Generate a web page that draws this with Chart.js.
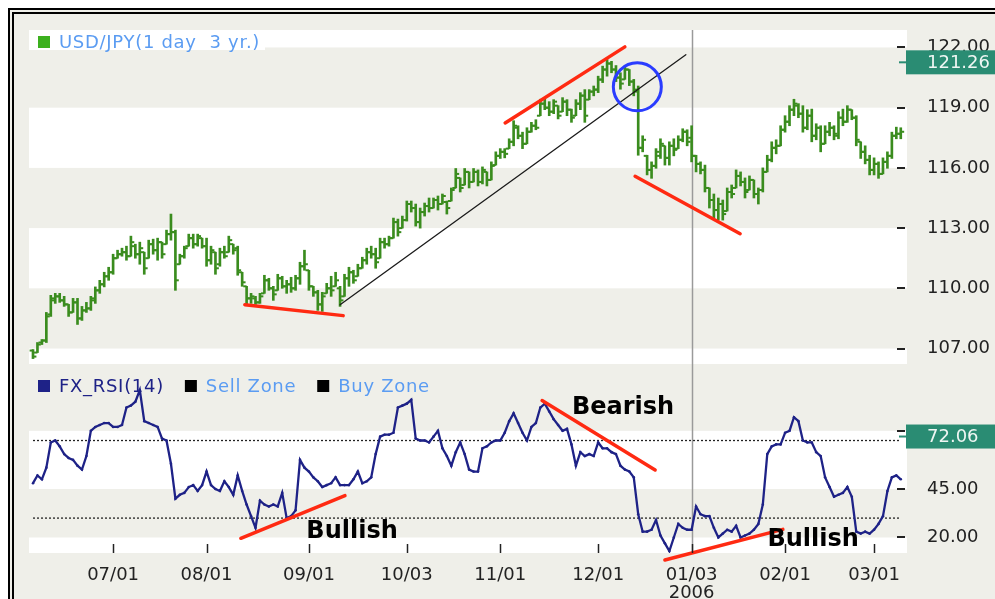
<!DOCTYPE html>
<html>
<head>
<meta charset="utf-8">
<script src="https://cdn.jsdelivr.net/npm/chart.js@4.4.1/dist/chart.umd.min.js"></script>
<style>
  html, body { margin: 0; padding: 0; background: #fff; overflow: hidden; }
  #frame { position: absolute; left: 8px; top: 8px; width: 1100px; height: 700px; border: 6px double #000; background: #efefe9; }
  canvas { position: absolute; left: 0; }
  #price { top: 0; }
  #rsi { top: 370px; }
</style>
</head>
<body>
<div id="frame"></div>
<canvas id="price" width="995" height="370"></canvas>
<canvas id="rsi" width="995" height="229"></canvas>
<script>
// trading days shown (weekdays, without the two holidays)
const dates = [];
(function () {
  const holidays = ['2005-12-26', '2006-01-02'];
  const d = new Date(Date.UTC(2005, 5, 7));
  const end = Date.UTC(2006, 2, 9);
  while (d.getTime() <= end) {
    const s = d.toISOString().slice(0, 10);
    const wd = d.getUTCDay();
    if (wd !== 0 && wd !== 6 && !holidays.includes(s)) dates.push(s);
    d.setUTCDate(d.getUTCDate() + 1);
  }
})();

const tickDates = ['2005-07-01', '2005-08-01', '2005-09-01', '2005-10-03', '2005-11-01', '2005-12-01', '2006-01-03', '2006-02-01', '2006-03-01'];
const tickLabels = ['07/01', '08/01', '09/01', '10/03', '11/01', '12/01', ['01/03', '2006'], '02/01', '03/01'];
const yearMark = '2006-01-03';

// USD/JPY daily bars
const open = [106.9,106.8,107.3,107.4,108.7,109.4,109.6,109.4,109.2,108.8,
  109.3,108.5,108.9,109.0,109.4,109.9,110.2,110.6,110.8,111.5,
  111.7,111.8,111.6,112.1,111.7,111.8,111.5,112.2,111.9,112.3,
  112.2,112.7,112.8,111.2,111.6,112.1,112.5,112.2,112.5,112.1,
  111.4,111.8,111.2,111.8,111.8,112.2,112.0,110.8,110.1,109.5,
  109.5,109.3,109.75,110.4,110.0,109.9,110.5,110.1,110.2,110.0,
  110.5,111.1,110.9,110.1,109.8,109.2,109.75,110.0,110.1,110.0,
  109.6,110.5,110.8,110.6,111.0,111.4,111.8,111.7,111.5,112.3,
  112.2,112.5,113.3,113.0,113.4,114.2,114.0,113.3,113.8,114.1,
  114.0,114.4,114.2,114.3,114.35,115.0,115.5,115.15,115.8,115.3,
  115.8,115.3,115.8,115.4,116.14,116.6,116.8,116.96,117.3,118.0,
  117.6,117.2,117.8,118.1,118.6,119.2,119.0,118.8,119.1,118.8,
  119.3,118.9,118.6,119.2,119.6,119.4,119.8,119.9,120.4,120.9,
  121.2,120.9,120.5,120.41,120.9,120.3,119.9,117.0,116.6,115.9,
  116.1,116.6,117.1,116.5,117.1,116.96,117.4,117.8,117.5,116.6,
  116.2,115.9,115.0,114.4,113.9,114.2,113.85,114.8,115.0,115.6,
  115.3,114.9,115.4,114.7,114.9,115.8,116.4,117.0,117.1,117.9,
  118.3,118.9,119.1,118.7,118.0,118.6,117.6,118.0,117.2,117.8,
  118.0,117.6,118.5,118.3,118.9,118.5,117.3,116.8,116.4,115.9,
  116.2,115.7,116.3,116.6,117.6,117.7];
const high = [106.95,107.3,107.45,108.8,109.65,109.75,109.75,109.6,109.2,109.5,
  109.5,109.1,109.3,109.6,110.07,110.4,110.8,111.05,111.7,111.9,
  112.0,112.1,112.6,112.2,112.3,111.8,112.4,112.45,112.5,112.3,
  112.9,113.7,112.9,111.7,112.1,112.7,112.7,112.7,112.5,112.5,
  112.1,111.8,112.0,112.1,112.6,112.2,112.1,110.8,110.1,109.75,
  109.6,109.75,110.65,110.5,110.1,110.7,110.6,110.4,110.55,110.65,
  111.3,111.9,110.9,110.1,109.9,109.8,110.25,110.6,110.8,110.1,
  110.7,111.05,110.9,111.2,111.55,112.0,112.1,112.0,112.5,112.5,
  112.6,113.5,113.45,113.6,114.35,114.35,114.2,114.0,114.25,114.5,
  114.5,114.6,114.7,114.35,115.0,115.97,115.5,115.97,115.8,115.97,
  115.9,116.05,115.8,116.3,116.8,116.96,116.96,117.45,118.35,118.1,
  117.78,118.0,118.27,118.4,119.42,119.42,119.3,119.4,119.1,119.5,
  119.4,118.93,119.4,119.75,119.9,119.9,120.08,120.57,121.07,121.4,
  121.31,121.1,120.74,121.07,120.9,120.41,120.08,117.6,116.63,116.3,
  116.96,117.45,117.1,117.3,117.45,117.6,117.95,117.9,118.1,116.63,
  116.3,116.14,115.0,114.7,114.5,114.4,115.0,115.15,115.9,115.8,
  115.5,115.6,115.4,115.0,116.0,116.63,117.3,117.4,118.1,118.6,
  119.1,119.42,119.2,119.1,118.9,118.93,118.2,118.1,118.1,118.27,
  118.1,118.8,118.93,119.1,118.9,118.6,117.3,117.1,116.63,116.5,
  116.3,116.5,116.8,117.78,118.03,118.0];
const low = [106.5,106.8,107.2,107.3,108.6,109.25,109.3,109.1,108.6,108.8,
  108.2,108.4,108.8,108.9,109.25,109.75,110.07,110.4,110.7,111.5,
  111.6,111.4,111.6,111.5,111.2,110.7,111.5,111.7,111.4,111.5,
  112.2,112.4,109.9,111.2,111.5,112.1,112.0,112.1,112.0,111.1,
  111.2,110.7,111.1,111.5,111.8,111.7,110.65,110.1,109.2,109.25,
  109.2,109.25,109.75,109.9,109.4,109.9,110.0,109.75,109.8,109.9,
  110.2,110.9,109.9,109.6,108.9,108.85,109.75,109.6,110.1,109.1,
  109.6,110.1,110.25,110.6,111.0,111.2,111.5,111.0,111.5,112.0,
  112.1,112.5,112.6,113.0,113.35,113.8,113.1,113.0,113.6,113.8,
  114.0,113.9,114.2,113.7,114.35,115.0,114.8,115.15,115.0,115.3,
  115.1,115.2,115.1,115.4,116.14,116.47,116.5,116.96,117.1,117.45,
  116.96,117.2,117.78,117.9,118.6,118.9,118.6,118.7,118.44,118.8,
  118.6,118.27,118.6,118.9,118.27,119.4,119.59,119.75,120.25,120.57,
  120.74,120.3,119.92,120.41,120.1,119.59,116.63,116.8,115.65,115.48,
  115.98,116.47,116.14,116.14,116.6,116.96,117.3,117.1,116.3,115.8,
  115.7,114.8,114.0,113.5,113.4,113.4,113.85,114.5,115.0,115.1,
  114.5,114.9,114.5,114.2,114.8,115.8,116.3,116.7,117.1,117.78,
  118.1,118.6,118.5,117.78,117.9,117.3,117.4,116.8,117.2,117.6,
  117.4,117.45,118.1,118.27,118.4,117.1,116.47,116.2,115.65,115.65,
  115.48,115.7,115.98,116.47,117.45,117.45];
const close = [106.6,107.2,107.4,108.6,109.5,109.6,109.4,109.2,108.8,109.3,
  108.5,108.9,109.0,109.5,109.9,110.2,110.6,110.8,111.5,111.7,
  111.8,111.6,112.3,111.7,112.0,111.0,112.2,111.9,112.3,111.7,
  112.7,112.8,110.4,111.6,112.0,112.5,112.2,112.6,112.1,111.4,
  111.9,111.0,111.8,111.6,112.4,111.9,110.9,110.3,109.5,109.6,
  109.3,109.6,110.4,110.0,109.7,110.5,110.1,110.2,110.0,110.5,
  111.1,111.2,110.1,109.8,109.2,109.6,110.0,109.9,110.4,109.4,
  110.5,110.8,110.4,111.0,111.4,111.8,111.7,111.3,112.3,112.2,
  112.5,113.3,112.8,113.4,114.2,114.0,113.3,113.8,114.1,114.0,
  114.4,114.2,114.6,114.0,114.9,115.7,115.0,115.8,115.3,115.8,
  115.3,115.9,115.4,116.1,116.6,116.8,116.7,117.3,118.1,117.6,
  117.2,117.8,118.1,118.0,119.2,119.0,118.8,119.3,118.6,119.3,
  118.9,118.5,119.2,119.6,118.6,119.8,119.9,120.4,120.9,121.2,
  120.9,120.5,120.2,120.9,120.3,119.8,117.0,117.4,115.9,116.1,
  116.8,117.2,116.5,117.1,116.9,117.4,117.8,117.3,116.6,116.2,
  115.9,115.0,114.4,113.9,114.2,113.7,114.8,114.7,115.6,115.3,
  114.8,115.4,114.7,114.9,115.8,116.4,117.0,117.1,117.9,118.3,
  118.9,119.2,118.7,118.0,118.6,117.6,118.0,117.2,117.8,118.0,
  117.7,118.5,118.3,118.9,118.5,117.4,116.8,116.4,115.9,116.2,
  115.7,116.3,116.6,117.6,117.7,117.8];

// FX_RSI(14)
const rsi = [48,52,50,56,69,70,67,63,61,60,
  57,55,62,75,77,78,79,79,77,77,
  78,87,88,90,96,80,79,78,77,71,
  70,58,40,42,43,46,47,44,47,54,
  47,45,44,49,46,42,52,44,37,31,
  25,39,37,36,37,36,43,30,31,34,
  60,56,54,51,49,46,47,48,51,47,
  47,47,50,54,48,49,51,63,72,73,
  73,74,87,88,89,91,71,70,70,69,
  72,75,66,62,57,64,69,63,55,54,
  54,66,67,69,70,70,74,80,84,79,
  74,70,77,79,87,89,85,81,78,75,
  76,68,57,64,62,63,62,69,66,66,
  64,63,57,55,54,51,32,23,23,24,
  29,21,17,13,20,27,25,24,24,36,
  32,31,31,25,20,22,24,23,26,20,
  21,22,24,27,37,63,67,68,68,74,
  75,82,80,70,69,69,64,62,51,46,
  41,42,43,46,41,23,22,23,22,24,
  27,31,44,51,52,50];

const priceTicks = [107, 110, 113, 116, 119, 122];
const rsiTicks = [20, 45, 75];
const sellLevel = 70;
const buyLevel = 30;
const lastPrice = 121.26;
const lastRsi = 72.06;

// drawn-on annotations, in (bar index, value)
const priceRedLines = [[[106.1, 118.24], [133.0, 122.03]], [[47.6, 109.18], [69.7, 108.64]], [[135.3, 115.58], [158.9, 112.72]]];
const priceTrend = [[69.0, 109.18], [146.7, 121.64]];
const priceCircle = [135.8, 120.04];
const rsiRedLines = [[[46.7, 19.6], [70.1, 41.6]], [[114.4, 90.6], [139.8, 54.8]], [[142.0, 8.4], [168.5, 24.2]]];
const rsiNotes = [['Bearish', 132.6, 87], ['Bullish', 71.7, 22.7], ['Bullish', 175.3, 18.6]];

const GREEN = '#3a8c1e';
const NAVY = '#1e2287';
const RED = '#ff2a12';
const TEAL = '#2a8c73';
const FONT = '"DejaVu Sans", sans-serif';
Chart.defaults.font.family = FONT;

const tickIdx = tickDates.map(d => dates.indexOf(d));
const markIdx = dates.indexOf(yearMark);

function whiteBands(chart, ticks) {
  const { ctx, chartArea: a, scales: { y } } = chart;
  const edges = [y.min, ...ticks, y.max];
  ctx.save();
  ctx.fillStyle = '#fff';
  for (let k = 0; k < edges.length - 1; k += 2) {
    const t = y.getPixelForValue(edges[k + 1]);
    const b = y.getPixelForValue(edges[k]);
    ctx.fillRect(a.left, t, a.right - a.left, b - t);
  }
  ctx.restore();
}

function yearLine(chart, y0, y1) {
  const { ctx, scales: { x } } = chart;
  const px = Math.round(x.getPixelForValue(markIdx)) + 0.5;
  ctx.save();
  ctx.strokeStyle = '#9a9a9a';
  ctx.lineWidth = 1.5;
  ctx.beginPath();
  ctx.moveTo(px, y0);
  ctx.lineTo(px, y1);
  ctx.stroke();
  ctx.restore();
}

function segment(chart, p, q, color, width) {
  const { ctx, scales: { x, y } } = chart;
  ctx.save();
  ctx.strokeStyle = color;
  ctx.lineWidth = width;
  ctx.lineCap = 'round';
  ctx.beginPath();
  ctx.moveTo(x.getPixelForValue(p[0]), y.getPixelForValue(p[1]));
  ctx.lineTo(x.getPixelForValue(q[0]), y.getPixelForValue(q[1]));
  ctx.stroke();
  ctx.restore();
}

function tickDashes(chart, ticks) {
  const { ctx, chartArea: a, scales: { y } } = chart;
  ctx.save();
  ctx.strokeStyle = '#222';
  ctx.lineWidth = 2;
  ticks.forEach(v => {
    const py = Math.round(y.getPixelForValue(v));
    ctx.beginPath();
    ctx.moveTo(a.right - 10, py);
    ctx.lineTo(a.right - 2, py);
    ctx.stroke();
  });
  ctx.restore();
}

function valueBox(chart, value) {
  const { ctx, chartArea: a, scales: { y } } = chart;
  const py = y.getPixelForValue(value);
  ctx.save();
  ctx.fillStyle = TEAL;
  ctx.fillRect(a.right - 1, py - 12, 120, 24);
  ctx.strokeStyle = TEAL;
  ctx.lineWidth = 2;
  ctx.beginPath();
  ctx.moveTo(a.right - 8, py);
  ctx.lineTo(a.right, py);
  ctx.stroke();
  ctx.fillStyle = '#eef6f3';
  ctx.font = '18px ' + FONT;
  ctx.textAlign = 'left';
  ctx.textBaseline = 'middle';
  ctx.fillText(value.toFixed(2), a.right + 20, py + 1);
  ctx.restore();
}

function legend(ctx, items, x, y) {
  ctx.save();
  ctx.font = '18px ' + FONT;
  ctx.letterSpacing = '0.7px';
  ctx.textBaseline = 'middle';
  ctx.textAlign = 'left';
  items.forEach(([label, box, color]) => {
    ctx.fillStyle = box;
    ctx.fillRect(x, y - 6, 12, 12);
    x += 21;
    ctx.fillStyle = color;
    ctx.fillText(label, x, y + 1);
    x += ctx.measureText(label).width + 21;
  });
  ctx.restore();
}

const pricePaint = {
  id: 'pricePaint',
  beforeDraw(chart) {
    whiteBands(chart, priceTicks);
    const { ctx, chartArea: a } = chart;
    ctx.save();
    ctx.fillStyle = '#fff';
    ctx.fillRect(a.left, a.top, 236, 20);
    ctx.restore();
  },
  beforeDatasetsDraw(chart) {
    yearLine(chart, chart.chartArea.top, chart.height);
  },
  afterDatasetsDraw(chart) {
    segment(chart, priceTrend[0], priceTrend[1], '#1a1a1a', 1.3);
    priceRedLines.forEach(l => segment(chart, l[0], l[1], RED, 3.5));
    const { ctx, scales: { x, y } } = chart;
    ctx.save();
    ctx.strokeStyle = '#2a3cff';
    ctx.lineWidth = 3;
    ctx.beginPath();
    ctx.arc(x.getPixelForValue(priceCircle[0]), y.getPixelForValue(priceCircle[1]), 24, 0, Math.PI * 2);
    ctx.stroke();
    ctx.restore();
  },
  afterDraw(chart) {
    tickDashes(chart, priceTicks);
    valueBox(chart, lastPrice);
    const a = chart.chartArea;
    legend(chart.ctx, [['USD/JPY(1 day  3 yr.)', '#3cb01e', '#5b9cf2']], a.left + 9, a.top + 12);
  }
};

const rsiPaint = {
  id: 'rsiPaint',
  beforeDraw(chart) {
    whiteBands(chart, rsiTicks);
  },
  beforeDatasetsDraw(chart) {
    yearLine(chart, 0, chart.chartArea.bottom);
  },
  afterDatasetsDraw(chart) {
    rsiRedLines.forEach(l => segment(chart, l[0], l[1], RED, 3.5));
    const { ctx, scales: { x, y } } = chart;
    ctx.save();
    ctx.fillStyle = '#000';
    ctx.font = 'bold 24px ' + FONT;
    ctx.textAlign = 'center';
    ctx.textBaseline = 'middle';
    rsiNotes.forEach(([t, i, v]) => ctx.fillText(t, x.getPixelForValue(i), y.getPixelForValue(v)));
    ctx.restore();
  },
  afterDraw(chart) {
    const { ctx, chartArea: a, scales: { x } } = chart;
    tickDashes(chart, rsiTicks);
    ctx.save();
    ctx.strokeStyle = '#222';
    ctx.lineWidth = 1.5;
    tickIdx.forEach(i => {
      const px = Math.round(x.getPixelForValue(i)) + 0.5;
      ctx.beginPath();
      ctx.moveTo(px, a.bottom - 9);
      ctx.lineTo(px, a.bottom);
      ctx.stroke();
    });
    ctx.restore();
    valueBox(chart, lastRsi);
    legend(ctx, [['FX_RSI(14)', NAVY, NAVY], ['Sell Zone', '#000', '#5b9cf2'], ['Buy Zone', '#000', '#5b9cf2']], a.left + 9, a.top + 12);
  }
};

function xAxis(show) {
  return {
    type: 'linear',
    min: -0.9,
    max: 196.4,
    offset: false,
    display: show,
    grid: { display: false, drawTicks: false },
    border: { display: false },
    afterBuildTicks: s => { s.ticks = tickIdx.map(v => ({ value: v })); },
    afterFit: s => { if (show) s.height = 46; },
    ticks: {
      autoSkip: false,
      maxRotation: 0,
      padding: 13,
      color: '#222',
      font: { size: 18, lineHeight: 1 },
      callback: v => tickLabels[tickIdx.indexOf(v)]
    }
  };
}

// labels that sit under the value box are covered by it in the original
function yAxis(min, max, ticks, boxed) {
  return {
    type: 'linear',
    position: 'right',
    min: min,
    max: max,
    grid: { display: false, drawTicks: false },
    border: { display: false },
    afterBuildTicks: s => { s.ticks = ticks.map(v => ({ value: v })); },
    afterFit: s => { s.width = 88; s.paddingTop = 0; s.paddingBottom = 0; },
    ticks: {
      padding: 20,
      font: { size: 18 },
      color: c => (Math.abs(c.tick.value - boxed) < 4 ? 'rgba(0,0,0,0)' : '#222'),
      callback: v => v.toFixed(2)
    }
  };
}

const barTicks = { type: 'line', showLine: false, pointStyle: 'line', pointRadius: 1.7, pointBorderWidth: 2, pointBorderColor: GREEN, borderColor: GREEN };

new Chart(document.getElementById('price'), {
  type: 'line',
  data: {
    datasets: [
      { type: 'bar', label: 'range', data: high.map((h, i) => ({ x: i, y: [low[i], h] })), backgroundColor: GREEN, barThickness: 2, grouped: false },
      Object.assign({ label: 'open', data: open.map((o, i) => ({ x: i - 0.38, y: o })) }, barTicks),
      Object.assign({ label: 'close', data: close.map((c, i) => ({ x: i + 0.38, y: c })) }, barTicks)
    ]
  },
  options: {
    responsive: false,
    animation: false,
    devicePixelRatio: 1,
    events: [],
    layout: { padding: { left: 29, top: 30, right: 0, bottom: 2 } },
    plugins: { legend: { display: false }, tooltip: { enabled: false } },
    scales: { x: xAxis(false), y: yAxis(106.23, 122.87, priceTicks, 0) }
  },
  plugins: [pricePaint]
});

new Chart(document.getElementById('rsi'), {
  type: 'line',
  data: {
    datasets: [
      { label: 'FX_RSI(14)', data: rsi.map((r, i) => ({ x: i, y: r })), borderColor: NAVY, borderWidth: 2.3, pointRadius: 1.3, pointBorderWidth: 0, pointBackgroundColor: NAVY, tension: 0 },
      { label: 'Sell Zone', data: [{ x: 0, y: sellLevel }, { x: dates.length - 1, y: sellLevel }], borderColor: '#222', borderWidth: 1.3, borderDash: [2, 2], pointRadius: 0 },
      { label: 'Buy Zone', data: [{ x: 0, y: buyLevel }, { x: dates.length - 1, y: buyLevel }], borderColor: '#222', borderWidth: 1.3, borderDash: [2, 2], pointRadius: 0 }
    ]
  },
  options: {
    responsive: false,
    animation: false,
    devicePixelRatio: 1,
    events: [],
    layout: { padding: { left: 29, top: 2, right: 0, bottom: 0 } },
    plugins: { legend: { display: false }, tooltip: { enabled: false } },
    scales: { x: xAxis(true), y: yAxis(12, 104.3, rsiTicks, lastRsi) }
  },
  plugins: [rsiPaint]
});
</script>
</body>
</html>
